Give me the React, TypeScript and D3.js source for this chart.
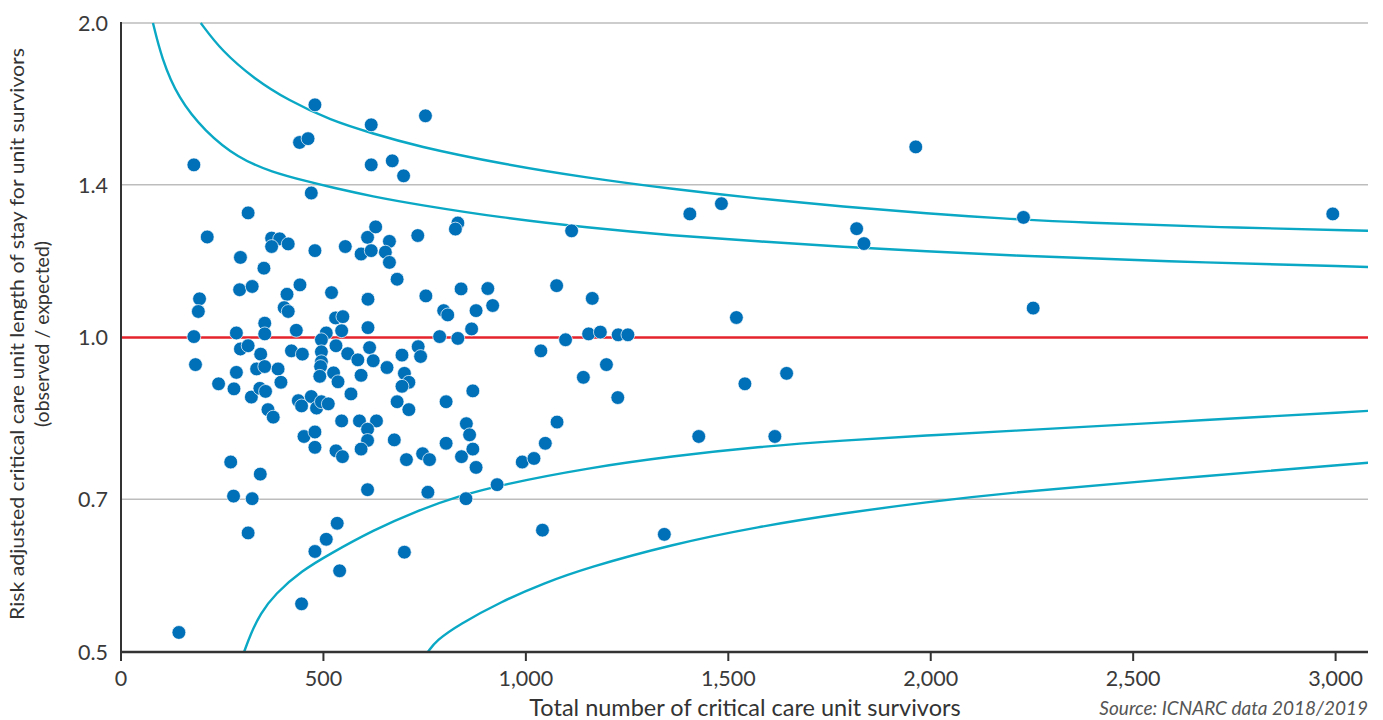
import * as d3 from "d3";

// ICU funnel plot: risk adjusted length of stay ratio vs number of survivors
const survivors = [
  479, 441, 462, 180, 470, 314, 213, 372, 392, 372, 413, 479, 295, 353, 293, 324, 442, 410, 520, 194,
  191, 403, 413, 530, 355, 180, 285, 355, 433, 507, 495, 184, 295, 314, 345, 421, 448, 495, 495, 531,
  285, 335, 355, 388, 493, 491, 525, 536, 241, 279, 322, 343, 357, 395, 438, 446, 470, 483, 495, 512,
  363, 376, 545, 452, 479, 479, 531, 547, 271, 344, 278, 324, 314, 534, 507, 479, 540, 446, 143, 752,
  618, 618, 670, 698, 832, 826, 554, 609, 629, 593, 618, 663, 653, 663, 733, 682, 610, 753, 840, 906,
  797, 807, 877, 918, 548, 545, 610, 787, 832, 866, 560, 585, 614, 623, 657, 694, 734, 740, 1037, 593,
  700, 711, 694, 568, 869, 682, 711, 803, 589, 631, 609, 853, 861, 609, 593, 675, 803, 705, 745, 762,
  841, 869, 877, 991, 1020, 1048, 609, 758, 852, 929, 700, 1041, 1963, 1405, 1483, 1113, 1817, 1835, 1076, 1164,
  1520, 1155, 1184, 1228, 1252, 1098, 1199, 1142, 1227, 1541, 1644, 1077, 1427, 1615, 1342, 2229, 2993, 2253,
];
const ratio = [
  1.67, 1.537, 1.55, 1.463, 1.375, 1.316, 1.248, 1.245, 1.243, 1.222, 1.229, 1.211, 1.193, 1.165, 1.111, 1.119, 1.123, 1.1, 1.104, 1.089,
  1.059, 1.068, 1.059, 1.044, 1.032, 1.002, 1.01, 1.008, 1.016, 1.01, 0.995, 0.942, 0.975, 0.982, 0.964, 0.971, 0.964, 0.969, 0.948, 0.982,
  0.926, 0.933, 0.938, 0.933, 0.938, 0.918, 0.925, 0.907, 0.903, 0.893, 0.877, 0.894, 0.888, 0.906, 0.87, 0.86, 0.878, 0.856, 0.868, 0.864,
  0.853, 0.839, 0.832, 0.804, 0.812, 0.785, 0.779, 0.769, 0.76, 0.74, 0.705, 0.701, 0.65, 0.664, 0.641, 0.624, 0.598, 0.556, 0.522, 1.63,
  1.598, 1.463, 1.476, 1.428, 1.287, 1.27, 1.222, 1.247, 1.276, 1.202, 1.211, 1.236, 1.207, 1.18, 1.252, 1.137, 1.088, 1.096, 1.113, 1.114,
  1.061, 1.051, 1.061, 1.073, 1.047, 1.015, 1.022, 1.002, 0.998, 1.019, 0.965, 0.952, 0.978, 0.95, 0.936, 0.962, 0.98, 0.959, 0.971, 0.92,
  0.924, 0.906, 0.898, 0.883, 0.889, 0.868, 0.853, 0.868, 0.832, 0.832, 0.817, 0.827, 0.807, 0.797, 0.782, 0.798, 0.792, 0.764, 0.774, 0.764,
  0.769, 0.782, 0.751, 0.76, 0.766, 0.792, 0.715, 0.711, 0.701, 0.723, 0.623, 0.654, 1.522, 1.313, 1.343, 1.265, 1.271, 1.23, 1.121, 1.09,
  1.045, 1.008, 1.012, 1.006, 1.006, 0.995, 0.942, 0.916, 0.876, 0.903, 0.924, 0.83, 0.804, 0.804, 0.648, 1.303, 1.313, 1.067,
];

// control limits: [survivors, ratio]
const upperOuter: [number, number][] = [
  [197, 2.0], [248, 1.882], [330, 1.767], [413, 1.687], [517, 1.614], [623, 1.567], [729, 1.525], [940, 1.466],
  [1151, 1.422], [1362, 1.387], [1573, 1.358], [1784, 1.334], [1995, 1.314], [2173, 1.3], [2378, 1.288],
  [2709, 1.275], [3087, 1.265],
];
const upperInner: [number, number][] = [
  [79, 2.0], [100, 1.852], [141, 1.695], [207, 1.575], [289, 1.485], [372, 1.44], [462, 1.41], [517, 1.393],
  [623, 1.364], [729, 1.341], [940, 1.302], [1151, 1.274], [1362, 1.252], [1573, 1.236], [1784, 1.221],
  [1995, 1.209], [2173, 1.199], [2568, 1.183], [3087, 1.168],
];
const lowerInner: [number, number][] = [
  [304, 0.5], [320, 0.52], [344, 0.544], [380, 0.568], [446, 0.598], [517, 0.621], [623, 0.654], [729, 0.682],
  [834, 0.705], [940, 0.723], [1151, 0.75], [1362, 0.77], [1573, 0.786], [1784, 0.797], [1995, 0.806],
  [2173, 0.813], [2568, 0.829], [3087, 0.851],
];
const lowerOuter: [number, number][] = [
  [758, 0.5], [779, 0.513], [834, 0.531], [940, 0.559], [1045, 0.582], [1151, 0.602], [1362, 0.634],
  [1573, 0.659], [1784, 0.679], [1995, 0.696], [2173, 0.709], [2568, 0.731], [3082, 0.759],
];

const yTicks = [0.5, 0.7, 1.0, 1.4, 2.0];
const xTicks = [0, 500, 1000, 1500, 2000, 2500, 3000];

const W = 1383;
const H = 720;
const left = 121;
const right = 1368;
const top = 23;
const bottom = 652;

const App = () => {
  const x = d3.scaleLinear().domain([0, 3080]).range([left, right]);
  const y = d3.scaleLog().domain([0.5, 2]).range([bottom, top]);

  // basis smooths out the small reading errors in the limit points
  const line = d3.line<[number, number]>()
    .x(d => x(d[0]))
    .y(d => y(d[1]))
    .curve(d3.curveBasis);

  const fmt = d3.format(",");
  const font = "Lato, 'Open Sans', sans-serif";

  return (
    <svg width={W} height={H} style={{position: "absolute", left: 0, top: 0}} fontFamily={font}>
      <defs>
        <clipPath id="plot">
          <rect x={left} y={top - 1} width={right - left} height={bottom - top + 1}/>
        </clipPath>
      </defs>

      {/* gridlines */}
      {yTicks.filter(t => t !== 0.5 && t !== 1.0).map(t => (
        <line key={t} x1={left} x2={right} y1={y(t)} y2={y(t)} stroke="#bdbdbd" strokeWidth={1.5}/>
      ))}

      {/* control limits */}
      <g clipPath="url(#plot)" fill="none" stroke="#0aa8c4" strokeWidth={2.4}>
        {[upperOuter, upperInner, lowerInner, lowerOuter].map((c, i) => (
          <path key={i} d={line(c) ?? ""}/>
        ))}
      </g>

      {/* reference line */}
      <line x1={left} x2={right} y1={y(1)} y2={y(1)} stroke="#e5232b" strokeWidth={2.4}/>

      {/* points */}
      <g fill="#0070b8" stroke="#ffffff" strokeWidth={0.7}>
        {survivors.map((n, i) => (
          <circle key={i} cx={x(n)} cy={y(ratio[i])} r={6.9}/>
        ))}
      </g>

      {/* axes */}
      <line x1={left} x2={left} y1={top - 1} y2={bottom + 1} stroke="#333" strokeWidth={2}/>
      <line x1={left - 1} x2={right} y1={bottom} y2={bottom} stroke="#333" strokeWidth={2.5}/>
      {xTicks.map(t => (
        <g key={t}>
          <line x1={x(t)} x2={x(t)} y1={bottom} y2={bottom + 9} stroke="#333" strokeWidth={2}/>
          <text x={x(t)} y={686} textAnchor="middle" fontSize={21.5} fill="#3a3a3a">{fmt(t)}</text>
        </g>
      ))}
      {yTicks.map(t => (
        <text key={t} x={108} y={y(t)} dy="0.36em" textAnchor="end" fontSize={21.5} fill="#3a3a3a">
          {t.toFixed(1)}
        </text>
      ))}

      {/* titles */}
      <text x={745} y={716} textAnchor="middle" fontSize={23.5} fill="#333">
        Total number of critical care unit survivors
      </text>
      <text x={1368} y={715} textAnchor="end" fontSize={19} fontStyle="italic" fill="#555">
        Source: ICNARC data 2018/2019
      </text>
      <g transform={`translate(24, 334) rotate(-90)`}>
        <text x={0} y={0} textAnchor="middle" fontSize={19.5} fill="#333"
              textLength={572} lengthAdjust="spacingAndGlyphs">
          Risk adjusted critical care unit length of stay for unit survivors
        </text>
        <text x={0} y={25} textAnchor="middle" fontSize={19.5} fill="#333">
          (observed / expected)
        </text>
      </g>
    </svg>
  );
};

export default App;
